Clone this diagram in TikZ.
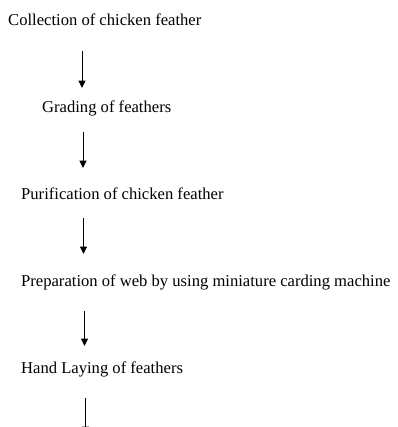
\documentclass[tikz,border=0pt]{standalone}
\usepackage{fontspec}
\setmainfont{Liberation Serif}
\usetikzlibrary{arrows.meta}
\tikzset{
  steptext/.style={anchor=base west, inner sep=0pt, font=\fontsize{16.6bp}{20bp}\selectfont},
  flow/.style={line width=1bp, -{Triangle[length=7.5bp,width=7bp]}}
}
\begin{document}
\begin{tikzpicture}[x=1bp,y=-1bp]
\useasboundingbox (0,0) rectangle (398,427);
\clip (0,0) rectangle (398,427);

% Process steps
\node[steptext] (collect) at (8,25) {Collection of chicken feather};
\node[steptext] (grade) at (42,112) {Grading of feathers};
\node[steptext] (purify) at (21,199) {Purification of chicken feather};
\node[steptext] (web) at (21,286) {Preparation of web by using miniature carding machine};
\node[steptext] (lay) at (21,373) {Hand Laying of feathers};

% Arrow ends
\coordinate (a1) at (82,51);   \coordinate (b1) at (82,88);
\coordinate (a2) at (83,132);  \coordinate (b2) at (83,168);
\coordinate (a3) at (83.5,218); \coordinate (b3) at (83.5,254);
\coordinate (a4) at (84.5,311); \coordinate (b4) at (84.5,346);
\coordinate (a5) at (85.5,398); \coordinate (b5) at (85.5,434);

\foreach \i in {1,...,5}
  \draw[flow] (a\i) -- (b\i);

\end{tikzpicture}
\end{document}
